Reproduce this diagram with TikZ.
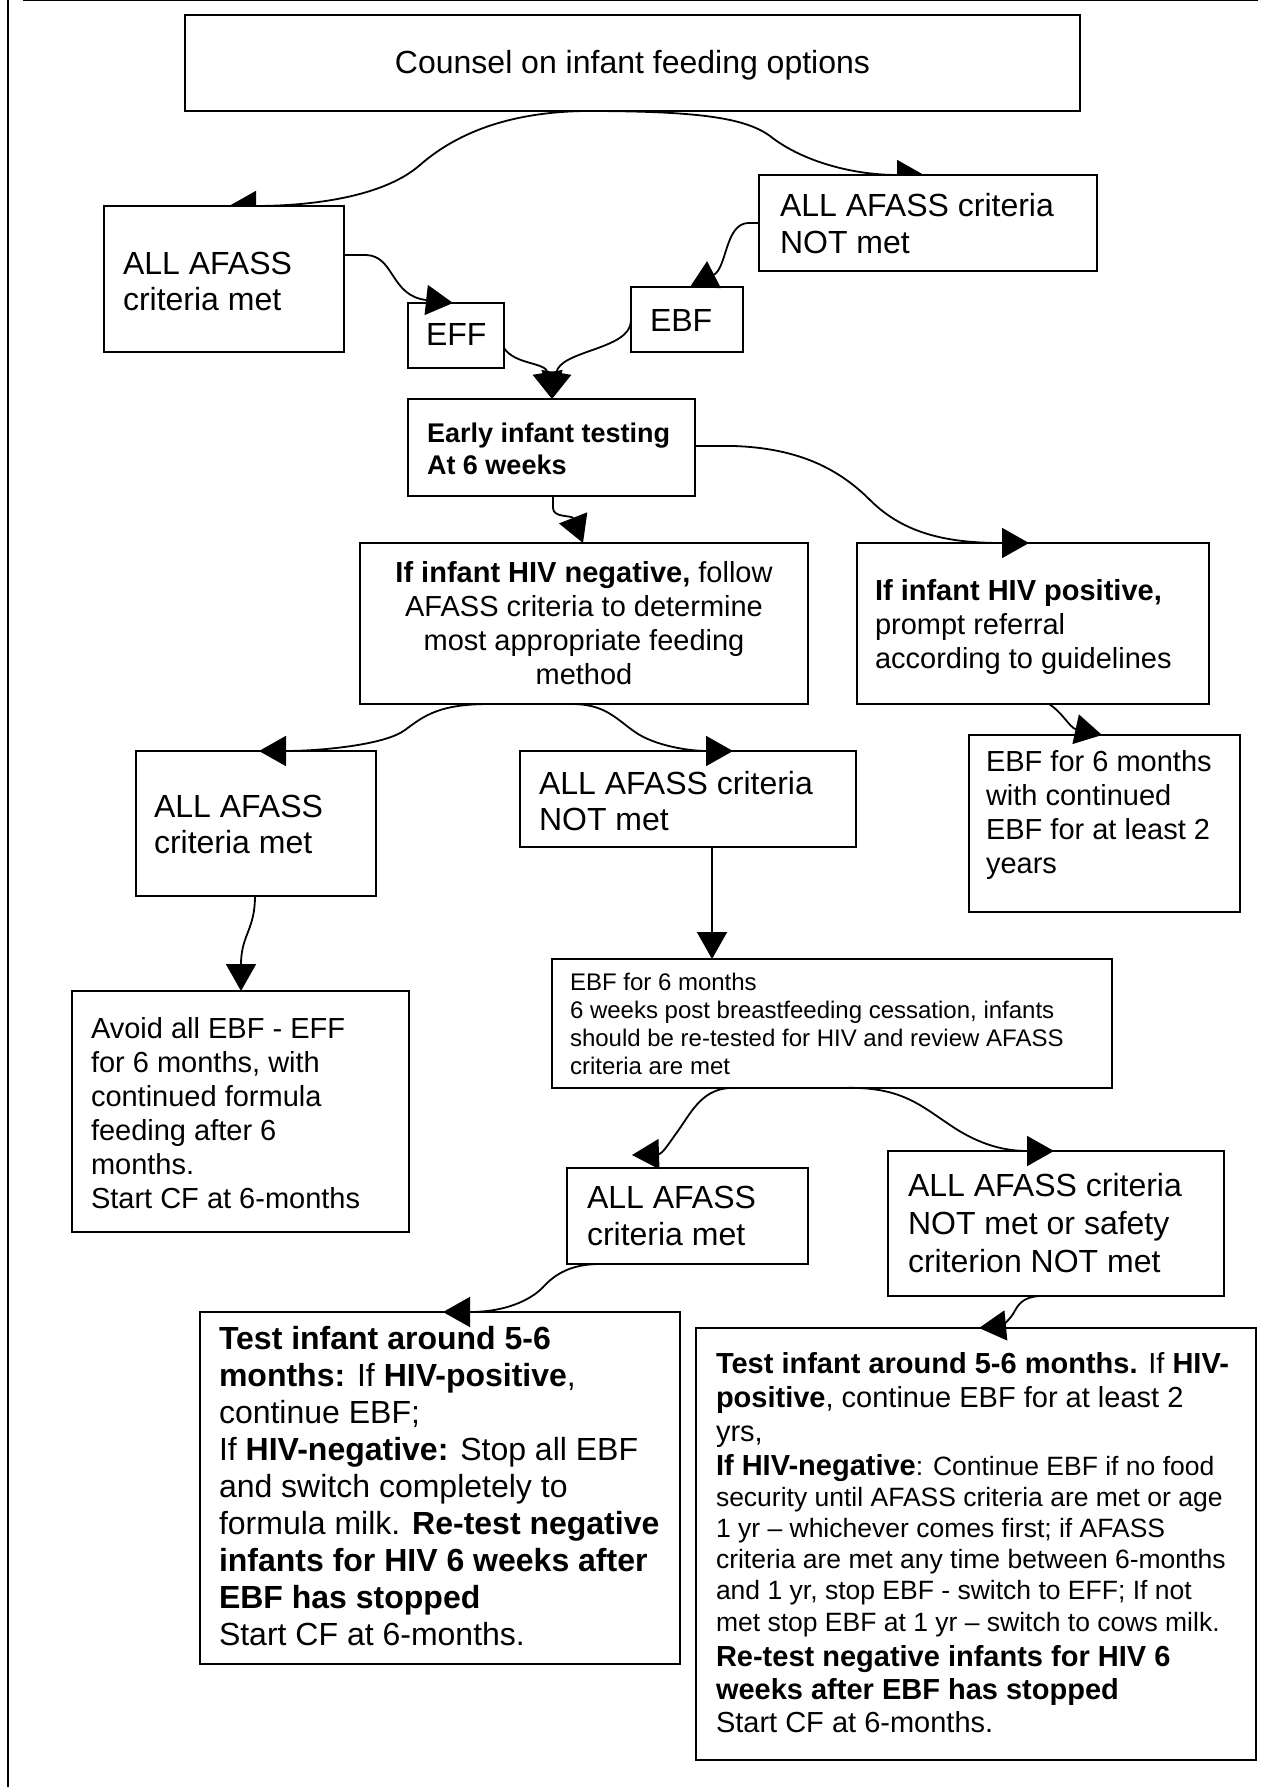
\documentclass[tikz,border=0pt]{standalone}
\usepackage{fontspec}
\setmainfont{Liberation Sans}
\usetikzlibrary{arrows.meta,calc}
\pgfdeclarelayer{bg}
\pgfsetlayers{bg,main}
\newcommand{\myfs}[2]{\fontsize{#1}{#2}\selectfont}
\newcommand{\mystrut}{\rule{0pt}{30pt}}
\begin{document}
\begin{tikzpicture}[x=1pt,y=-1pt,
  box/.style={draw,line width=2pt,fill=white,inner sep=0pt,outer sep=0pt,anchor=north west},
  txt/.style={anchor=north west,inner sep=0pt,outer sep=0pt,align=left},
  big/.style={font=\myfs{32}{36}},
  mid/.style={font=\myfs{29}{34}},
  arr/.style={line width=1.8pt,-{Triangle[length=27pt,width=30pt]}}]
\useasboundingbox (0,0) rectangle (1271,1787);
% boxes
\node[box,minimum width=895pt,minimum height=96pt,font=\myfs{32}{37},text depth=2pt] (counsel) at (185,15) {Counsel on infant feeding options};
\node[box,minimum width=240pt,minimum height=146pt] (L1met) at (104,206) {};
\node[box,minimum width=338pt,minimum height=96pt] (R1not) at (759,175) {};
\node[box,minimum width=96pt,minimum height=65pt] (eff) at (408,303) {};
\node[box,minimum width=112pt,minimum height=65pt] (ebf) at (631,287) {};
\node[box,minimum width=287pt,minimum height=97pt] (early) at (408,399) {};
\node[box,minimum width=448pt,minimum height=161pt,align=center,mid] (neg) at (360,543) {\textbf{If infant HIV negative,} follow\\AFASS criteria to determine\\most appropriate feeding\\method};
\node[box,minimum width=352pt,minimum height=161pt] (pos) at (857,543) {};
\node[box,minimum width=240pt,minimum height=145pt] (L2met) at (136,751) {};
\node[box,minimum width=336pt,minimum height=96pt] (L2not) at (520,751) {};
\node[box,minimum width=271pt,minimum height=177pt] (ebfpos) at (969,735) {};
\node[box,minimum width=560pt,minimum height=129pt] (mid) at (552,959) {};
\node[box,minimum width=337pt,minimum height=241pt] (avoid) at (72,991) {};
\node[box,minimum width=241pt,minimum height=96pt] (L3met) at (567,1168) {};
\node[box,minimum width=336pt,minimum height=145pt] (L3not) at (888,1151) {};
\node[box,minimum width=480pt,minimum height=352pt] (testL) at (200,1312) {};
\node[box,minimum width=560pt,minimum height=432pt] (testR) at (696,1328) {};
% background layer: page, frame and the two top connectors
\begin{pgfonlayer}{bg}
\fill[white] (0,0) rectangle (1271,1787);
\draw[line width=2.3pt] (8.2,0) -- (8.2,1787);
\draw[line width=1.2pt] (23,0.6) -- (1258,0.6);
\draw[arr] ($(counsel.south west)+(400,0)$) .. controls (515,112) and (460,130) .. (420,165) .. controls (380,200) and (300,206) .. ($(L1met.north west)+(125,0)$);
\draw[arr] ($(counsel.south west)+(400,0)$) .. controls (700,111) and (745,118) .. (770,136) .. controls (800,160) and (850,175) .. ($(R1not.north west)+(165,0)$);
\end{pgfonlayer}
% texts
\node[txt,big] (tL1) at (123,244) {\mystrut ALL AFASS\\criteria met};
\node[txt,font=\myfs{32}{37}] (tR1) at (780,187) {\mystrut ALL AFASS criteria\\NOT met};
\node[txt,big] (tEFF) at (426,315) {\mystrut EFF};
\node[txt,big] (tEBF) at (650,301) {\mystrut EBF};
\node[txt,font=\myfs{27}{32}\bfseries] (tEarly) at (427,412) {\mystrut Early infant testing\\At 6 weeks};
\node[txt,mid] (tPos) at (875,570) {\mystrut\textbf{If infant HIV positive,}\\prompt referral\\according to guidelines};
\node[txt,big] (tL2met) at (154,787) {\mystrut ALL AFASS\\criteria met};
\node[txt,big] (tL2not) at (539,764) {\mystrut ALL AFASS criteria\\NOT met};
\node[txt,mid] (tEbfpos) at (986,741) {\mystrut EBF for 6 months\\with continued\\EBF for at least 2\\years};
\node[txt,font=\myfs{24}{28}] (tMid) at (570,960) {\mystrut EBF for 6 months\\6 weeks post breastfeeding cessation, infants\\should be re-tested for HIV and review AFASS\\criteria are met};
\node[txt,mid] (tAvoid) at (91,1008) {\mystrut Avoid all EBF - EFF\\for 6 months, with\\continued formula\\feeding after 6\\months.\\Start CF at 6-months};
\node[txt,font=\myfs{32}{37}] (tL3met) at (587,1178) {\mystrut ALL AFASS\\criteria met};
\node[txt,font=\myfs{32}{38}] (tL3not) at (908,1166) {\mystrut ALL AFASS criteria\\NOT met or safety\\criterion NOT met};
\node[txt,font=\myfs{32}{37}] (tTestL) at (219,1319) {\mystrut\textbf{Test infant around 5-6}\\
\textbf{months:} If \textbf{HIV-positive},\\
continue EBF;\\
If \textbf{HIV-negative:} Stop all EBF\\
and switch completely to\\
formula milk. \textbf{Re-test negative}\\
\textbf{infants for HIV 6 weeks after}\\
\textbf{EBF has stopped}\\
Start CF at 6-months.};
\node[txt,font=\myfs{26.5}{31}] (tTestR) at (716,1343) {\mystrut{\myfs{29}{34}\textbf{Test infant around 5-6 months.} If \textbf{HIV-}}\\[3pt]
{\myfs{29}{34}\textbf{positive}, continue EBF for at least 2}\\[3pt]
{\myfs{29}{34}yrs,}\\[3pt]
{\myfs{29}{34}\textbf{If HIV-negative}}: Continue EBF if no food\\
security until AFASS criteria are met or age\\
1 yr – whichever comes first; if AFASS\\
criteria are met any time between 6-months\\
and 1 yr, stop EBF - switch to EFF; If not\\[1pt]
met stop EBF at 1 yr – switch to cows milk.\\[4pt]
{\myfs{29}{34}\textbf{Re-test negative infants for HIV 6}}\\[2pt]
{\myfs{29}{34}\textbf{weeks after EBF has stopped}}\\[2pt]
{\myfs{29}{34}Start CF at 6-months.}};
% connectors
\draw[arr] ($(L1met.north east)+(0,49)$) -- (366,255) .. controls (395,256) and (390,296) .. ($(eff.north west)+(45,0)$);
\draw[arr] ($(R1not.north west)+(0,48)$) -- (748,223) .. controls (725,224) and (727,268) .. ($(ebf.north west)+(59,0)$);
\draw[arr] ($(eff.north east)+(0,45)$) .. controls (515,365) and (546,362) .. ($(early.north west)+(144,0)$);
\draw[arr] ($(ebf.north west)+(0,34)$) .. controls (630,350) and (560,350) .. ($(early.north west)+(144,0)$);
\draw[arr] ($(early.south west)+(145,0)$) -- (553,508) .. controls (553,518) and (572,515) .. ($(neg.north west)+(223,0)$);
\draw[arr] ($(early.north east)+(0,47)$) -- (733,446) .. controls (800,448) and (840,470) .. (870,500) .. controls (905,535) and (950,543) .. ($(pos.north west)+(172,0)$);
\draw[arr] ($(neg.south west)+(130,0)$) .. controls (440,704) and (425,715) .. (405,730) .. controls (385,745) and (320,751) .. ($(L2met.north west)+(123,0)$);
\draw[arr] ($(neg.south west)+(211,0)$) .. controls (605,704) and (615,718) .. (635,732) .. controls (655,746) and (690,751) .. ($(L2not.north west)+(213,0)$);
\draw[arr] ($(pos.south west)+(192,0)$) .. controls (1062,712) and (1070,728) .. ($(ebfpos.north west)+(133,0)$);
\draw[arr] ($(L2met.south west)+(119,0)$) .. controls (255,930) and (241,935) .. ($(avoid.north west)+(169,0)$);
\coordinate (a13) at ($(L2not.south west)+(192,0)$);
\draw[arr] (a13) -- (a13 |- mid.north);
\draw[arr] ($(mid.south west)+(177,0)$) .. controls (700,1090) and (690,1115) .. (675,1135) .. controls (668,1145) and (662,1154) .. ($(L3met.north west)+(65,-13)$);
\draw[arr] ($(mid.south west)+(291,0)$) .. controls (900,1086) and (920,1105) .. (950,1125) .. controls (975,1142) and (1000,1151) .. ($(L3not.north west)+(166,0)$);
\draw[arr] ($(L3met.south west)+(33,0)$) .. controls (570,1264) and (555,1275) .. (545,1285) .. controls (535,1297) and (510,1312) .. ($(testL.north west)+(243,0)$);
\draw[arr] ($(L3not.south west)+(152,0)$) .. controls (1022,1297) and (1018,1305) .. (1013,1314) .. controls (1008,1322) and (1000,1326) .. ($(testR.north west)+(283,0)$);
\end{tikzpicture}
\end{document}
